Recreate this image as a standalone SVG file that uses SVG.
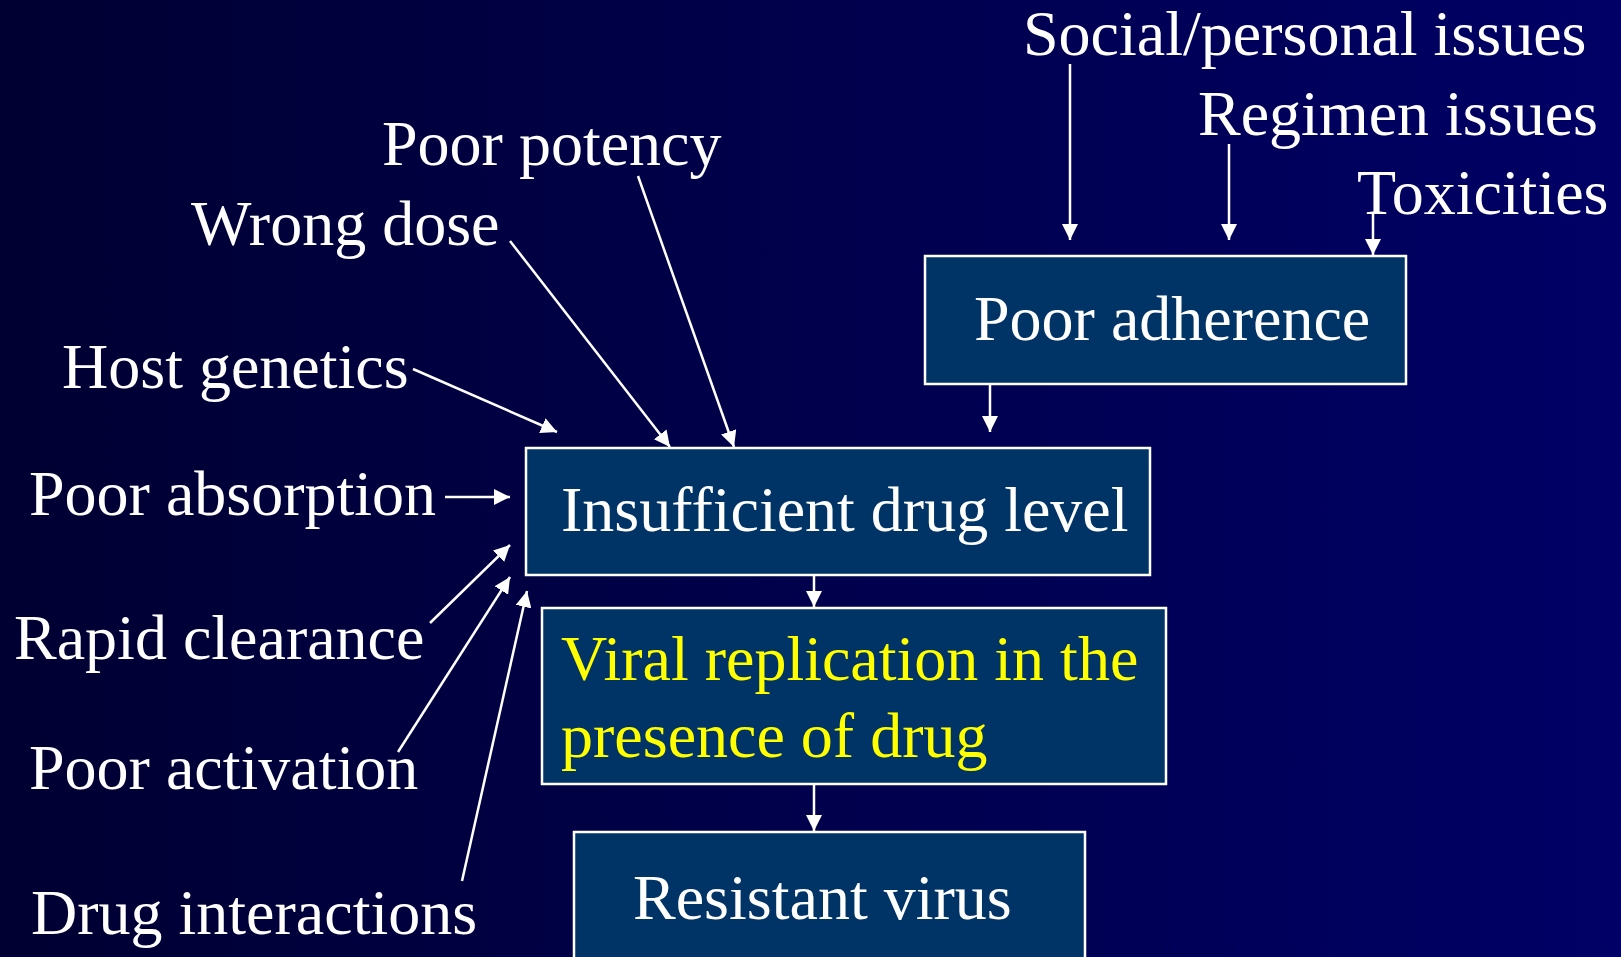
<svg xmlns="http://www.w3.org/2000/svg" width="1621" height="957" viewBox="0 0 1621 957">
<defs>
<linearGradient id="bg" x1="0" y1="0" x2="1" y2="0">
<stop offset="0" stop-color="#000032"/>
<stop offset="1" stop-color="#000066"/>
</linearGradient>
<marker id="ah" markerUnits="userSpaceOnUse" markerWidth="16" markerHeight="16" viewBox="0 0 16 16" refX="16" refY="8" orient="auto">
<path d="M0,0 L16,8 L0,16 Z" fill="#ffffff"/>
</marker>
<style>
text{font-family:"Liberation Serif","Times New Roman",serif;font-size:64px;fill:#ffffff}
.box{fill:#003366;stroke:#ffffff;stroke-width:2.5}
.yl{fill:#ffff00}
#connectors line{stroke:#ffffff;stroke-width:2.5;marker-end:url(#ah)}
</style>
</defs>
<rect width="1621" height="957" fill="url(#bg)"/>
<g id="node-poor-adherence">
<rect class="box" x="925" y="256" width="481" height="128"/>
<text x="974" y="340">Poor adherence</text>
</g>
<g id="node-insufficient">
<rect class="box" x="526" y="448" width="624" height="127"/>
<text x="561" y="531">Insufficient drug level</text>
</g>
<g id="node-viral">
<rect class="box" x="542" y="608" width="624" height="176"/>
<text class="yl" x="561" y="680">Viral replication in the</text>
<text class="yl" x="561" y="757">presence of drug</text>
</g>
<g id="node-resistant">
<rect class="box" x="574" y="832" width="511" height="140"/>
<text x="633" y="919">Resistant virus</text>
</g>
<g id="node-social"><text x="1023" y="55">Social/personal issues</text></g>
<g id="node-regimen"><text x="1198" y="135">Regimen issues</text></g>
<g id="node-toxicities"><text x="1357" y="214">Toxicities</text></g>
<g id="node-potency"><text x="382" y="165">Poor potency</text></g>
<g id="node-dose"><text x="191" y="245">Wrong dose</text></g>
<g id="node-host"><text x="62" y="388">Host genetics</text></g>
<g id="node-absorption"><text x="29" y="515">Poor absorption</text></g>
<g id="node-clearance"><text x="14" y="659">Rapid clearance</text></g>
<g id="node-activation"><text x="29" y="789">Poor activation</text></g>
<g id="node-interactions"><text x="31" y="934">Drug interactions</text></g>
<g id="connectors">
<line x1="1070" y1="64" x2="1070" y2="240"/>
<line x1="1229" y1="144" x2="1229" y2="240"/>
<line x1="1373" y1="213" x2="1373" y2="255"/>
<line x1="990" y1="384" x2="990" y2="432"/>
<line x1="814" y1="575" x2="814" y2="607"/>
<line x1="814" y1="784" x2="814" y2="831"/>
<line x1="413" y1="369" x2="557" y2="432"/>
<line x1="510" y1="241" x2="670" y2="447"/>
<line x1="638" y1="176" x2="734" y2="447"/>
<line x1="445" y1="497" x2="510" y2="497"/>
<line x1="430" y1="623" x2="510" y2="545"/>
<line x1="398" y1="752" x2="510" y2="577"/>
<line x1="462" y1="881" x2="527" y2="591"/>
</g>
</svg>
